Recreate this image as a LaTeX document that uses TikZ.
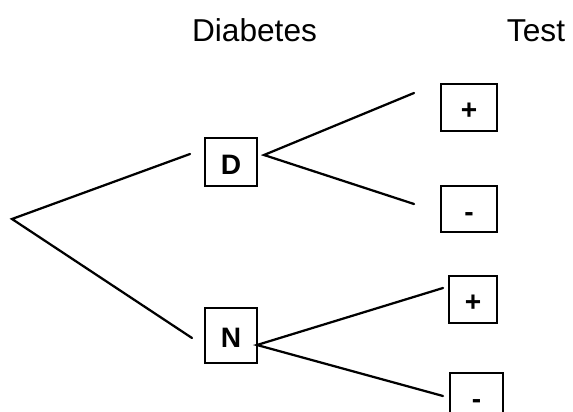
\documentclass[tikz,border=0pt]{standalone}
\usepackage{fontspec}
\setmainfont{Liberation Sans}
\usetikzlibrary{calc}

\begin{document}
\begin{tikzpicture}[x=0.025cm, y=-0.025cm,
	branch/.style={line width=1.6pt, line cap=round},
	box/.style={draw, line width=1.3pt, inner sep=0pt, text height=0.6cm, text depth=0pt,
		font=\fontsize{20}{24}\selectfont\bfseries},
	head/.style={anchor=base, font=\fontsize{22.5}{26}\selectfont}]
			%%%%% START %%%%%
			
			\useasboundingbox (0, 0) rectangle (573, 412);
			\clip (0, 0) rectangle (573, 412);
			
			\node[head] (diabetes) at (254.5, 42) {Diabetes};
			\node[head] (test) at (536, 42) {Test};
			
			\coordinate (root) at (12, 219);
			
			\node[box, minimum width=1.3cm, minimum height=1.2cm] (D) at (231, 162) {D};
			\node[box, minimum width=1.3cm, minimum height=1.375cm] (N) at (231, 335.5) {N};
			
			\node[box, minimum width=1.4cm, minimum height=1.175cm] (Dplus) at (469, 107.5) {+};
			\node[box, minimum width=1.4cm, minimum height=1.15cm] (Dminus) at (469, 209) {-};
			\node[box, minimum width=1.2cm, minimum height=1.175cm] (Nplus) at (473, 299.5) {+};
			\node[box, minimum width=1.325cm, minimum height=1.15cm] (Nminus) at (476.5, 396) {-};
			
			\coordinate (Din) at (190, 154);
			\coordinate (Nin) at (192, 338);
			\coordinate (Dout) at (264, 155);
			\coordinate (Nout) at (257, 345);
			\coordinate (Dplusin) at (414, 93);
			\coordinate (Dminusin) at (414, 204);
			\coordinate (Nplusin) at (443, 288);
			\coordinate (Nminusin) at (443, 396);
			
			\draw[branch] (Din) -- (root) -- (Nin);
			\draw[branch] (Dplusin) -- (Dout) -- (Dminusin);
			\draw[branch] (Nplusin) -- (Nout) -- (Nminusin);
			
			%%%%% END %%%%%
		\end{tikzpicture}
\end{document}
